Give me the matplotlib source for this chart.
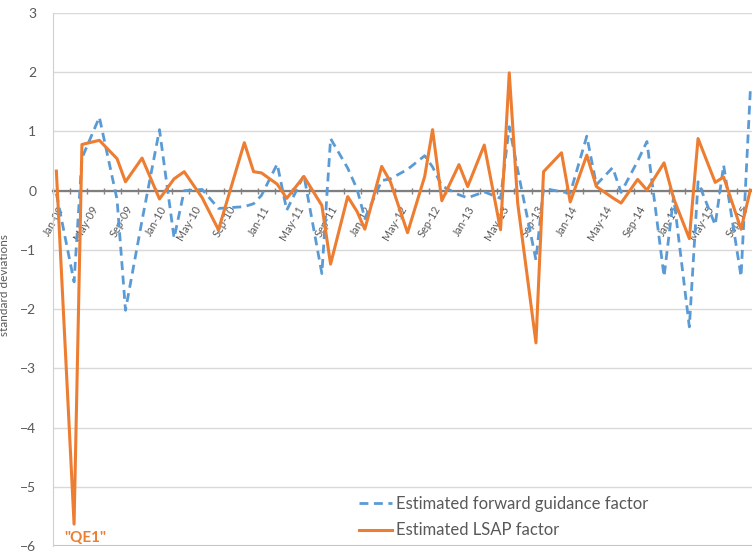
import pandas as pd
import matplotlib
matplotlib.use("Agg")
import matplotlib.pyplot as plt
import matplotlib.dates as mdates
from matplotlib.transforms import ScaledTranslation

plt.rcParams['font.family'] = ['Lato', 'DejaVu Sans']

# event dates
dates = ["2009-01-13", "2009-03-17", "2009-04-14", "2009-06-15", "2009-08-17",
         "2009-09-16", "2009-11-14", "2010-01-15", "2010-03-08", "2010-04-13",
         "2010-06-16", "2010-08-13", "2010-11-13", "2010-12-16", "2011-01-13",
         "2011-03-10", "2011-04-13", "2011-06-13", "2011-08-16", "2011-09-16",
         "2011-11-16", "2011-12-19", "2012-01-16", "2012-03-16", "2012-04-16",
         "2012-06-16", "2012-08-16", "2012-09-13", "2012-10-16", "2012-12-16",
         "2013-01-16", "2013-03-16", "2013-05-13", "2013-06-13", "2013-07-13",
         "2013-09-16", "2013-10-13", "2013-12-16", "2014-01-16", "2014-03-16",
         "2014-04-19", "2014-06-16", "2014-07-16", "2014-09-13", "2014-10-16",
         "2014-12-16", "2015-01-19", "2015-03-16", "2015-04-16", "2015-06-16",
         "2015-07-16", "2015-09-16", "2015-10-19"]

fwd_guidance = [-0.05, -1.54, 0.55, 1.24, -0.15, -2.02, -0.50, 1.03, -0.80, 0.00,
                0.02, -0.30, -0.27, -0.22, -0.08, 0.45, -0.33, 0.26, -1.40, 0.88,
                0.38, 0.03, -0.47, 0.17, 0.20, 0.36, 0.59, 0.40, 0.08, -0.07,
                -0.12, -0.02, -0.13, 1.08, 0.35, -1.17, 0.04, -0.02, -0.04, 0.92,
                0.10, 0.39, -0.03, 0.50, 0.83, -1.45, -0.10, -2.30, 0.15, -0.58,
                0.43, -1.45, 1.69]

lsap = [0.33, -5.63, 0.78, 0.85, 0.54, 0.15, 0.55, -0.14, 0.20, 0.32,
        -0.12, -0.66, 0.81, 0.32, 0.30, 0.11, -0.13, 0.24, -0.25, -1.24,
        -0.10, -0.35, -0.65, 0.41, 0.15, -0.71, 0.24, 1.03, -0.17, 0.44,
        0.07, 0.77, -0.66, 1.99, -0.21, -2.57, 0.32, 0.64, -0.19, 0.60,
        0.07, -0.12, -0.21, 0.19, 0.01, 0.47, -0.13, -0.81, 0.88, 0.14,
        0.23, -0.65, 0.01]

df = pd.DataFrame({'date': pd.to_datetime(dates),
                   'fwd': fwd_guidance, 'lsap': lsap})

blue = '#5B9BD5'
orange = '#ED7D31'
text_col = '#595959'

fig = plt.figure(figsize=(7.52, 5.52), dpi=100)
ax = fig.add_axes([53 / 752, 6 / 552, 699 / 752, 533 / 552])

ax.plot(df['date'], df['fwd'], color=blue, lw=2.0, linestyle=(0, (3.2, 2.0)),
        label='Estimated forward guidance factor')
ax.plot(df['date'], df['lsap'], color=orange, lw=2.2,
        label='Estimated LSAP factor')

ax.set_ylim(-6, 3)
ax.set_xlim(pd.Timestamp('2009-01-01'), pd.Timestamp('2015-10-25'))
ax.set_yticks(range(-6, 4))
ax.yaxis.grid(True, color='#d9d9d9', lw=1)
ax.set_axisbelow(True)
ax.axhline(-6, color='#bfbfbf', lw=1.5, zorder=0)

# category axis crossing at zero
ax.spines['bottom'].set_position(('data', 0))
ax.spines['bottom'].set_color('#7f7f7f')
ax.spines['bottom'].set_linewidth(1.6)
ax.spines['bottom'].set_zorder(1)
ax.spines['top'].set_visible(False)
ax.spines['right'].set_visible(False)
ax.spines['left'].set_color('#d0d0d0')

ax.xaxis.set_major_locator(mdates.MonthLocator(bymonth=[1, 5, 9]))
ax.xaxis.set_minor_locator(mdates.MonthLocator(bymonth=[3, 7, 11]))
ax.xaxis.set_major_formatter(mdates.DateFormatter('%b-%y'))
ax.tick_params(axis='x', which='both', direction='inout', length=5, width=1,
               color='#7f7f7f', pad=9, labelsize=7.8, labelcolor=text_col)
ax.tick_params(axis='y', length=0, pad=12, labelsize=10, labelcolor=text_col)
offset = ScaledTranslation(0.09, 0, fig.dpi_scale_trans)
for lab in ax.get_xticklabels():
    lab.set_rotation(60)
    lab.set_ha('right')
    lab.set_va('center')
    lab.set_rotation_mode('anchor')
    lab.set_transform(lab.get_transform() + offset)

ax.set_ylabel('standard deviations', fontsize=8.5, color=text_col)
ax.yaxis.set_label_coords(-0.062, 0.49)

ax.annotate('"QE1"', xy=(df['date'][1], df['lsap'][1]), xytext=(8, -10),
            textcoords='offset points', ha='center', va='center',
            color=orange, fontsize=11, fontweight='bold')

fig.legend(loc='upper left', bbox_to_anchor=(359 / 752, 1 - 496 / 552),
           frameon=False, fontsize=12, handlelength=2.0, handletextpad=0.2,
           borderpad=0, borderaxespad=0, labelspacing=0.62, labelcolor=text_col)

fig.savefig('out.png', dpi=100)
